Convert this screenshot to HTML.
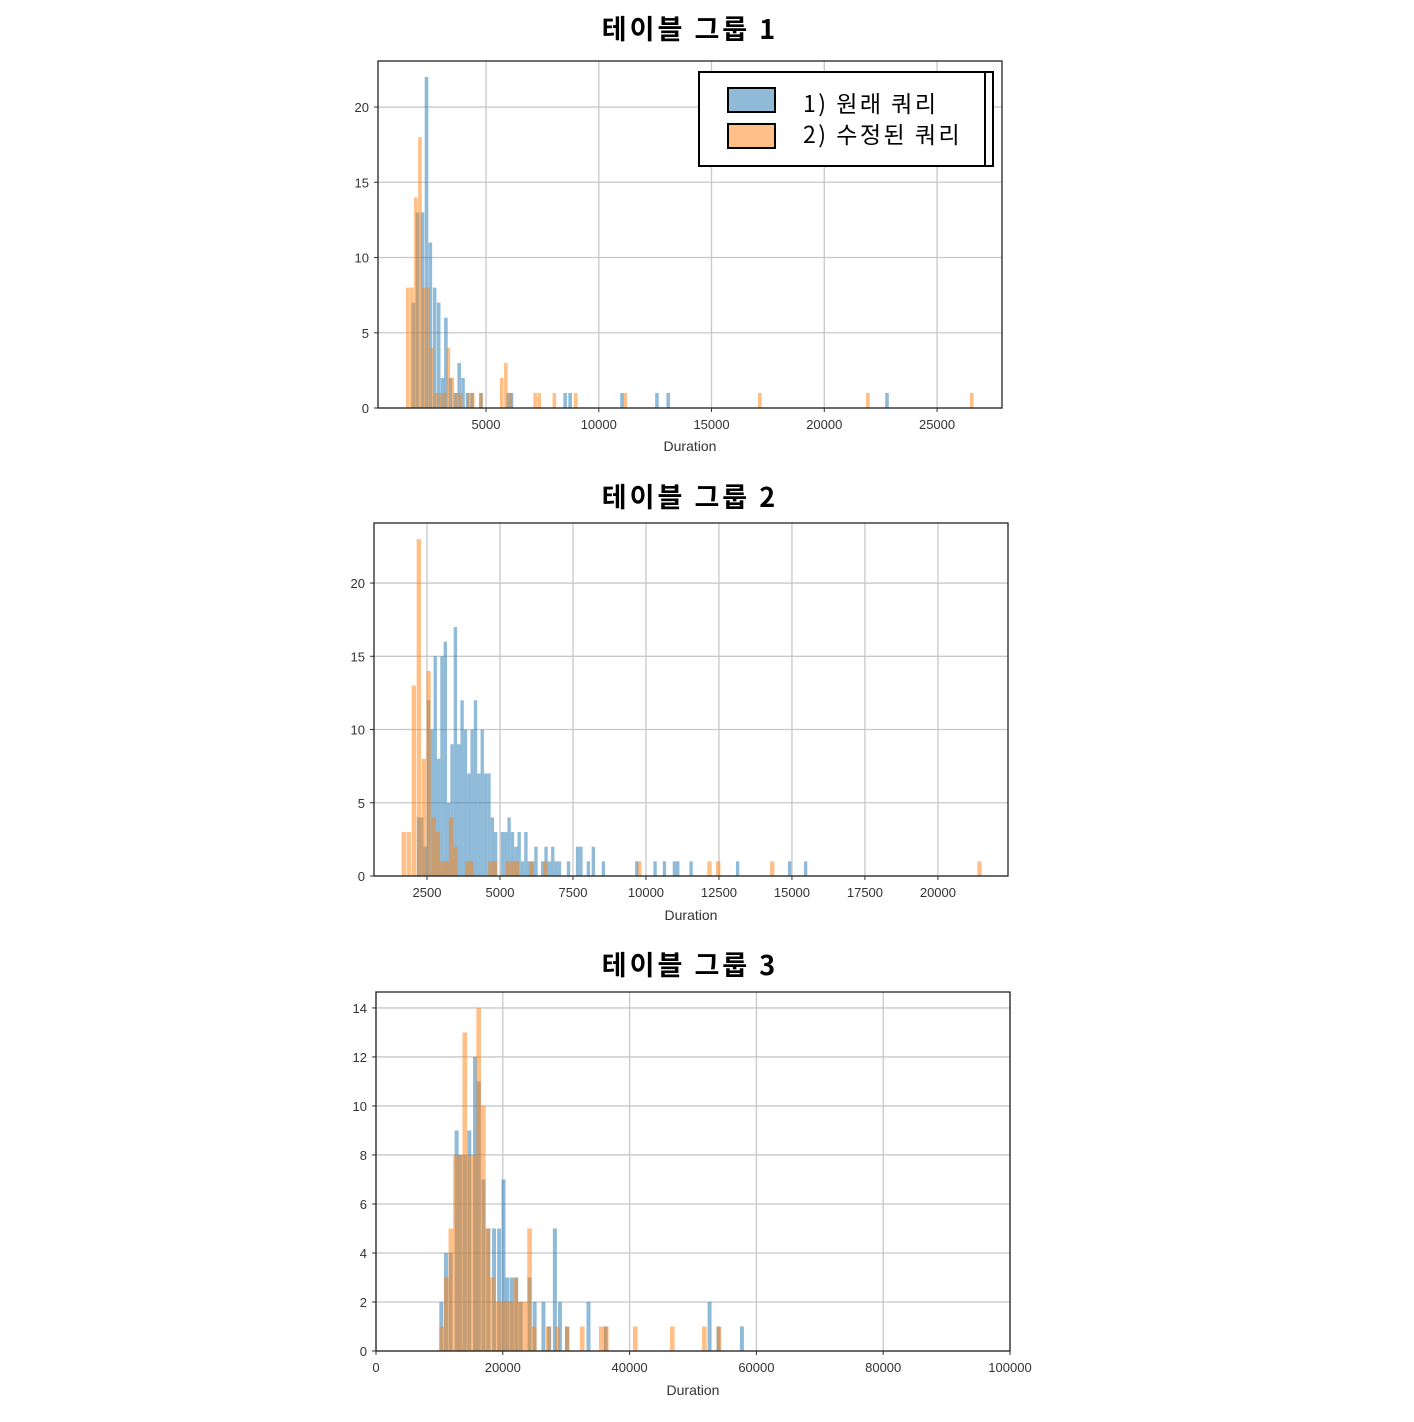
<!DOCTYPE html>
<html><head><meta charset="utf-8">
<style>
html,body{margin:0;padding:0;background:#fff;}
body{width:1414px;height:1417px;overflow:hidden;}
svg text{font-family:"Liberation Sans","Noto Sans CJK KR",sans-serif;}
svg text.kr{font-family:"Noto Sans CJK KR","Liberation Sans",sans-serif;}
</style></head>
<body>
<svg id="root" width="1414" height="1417" viewBox="0 0 1414 1417" xmlns="http://www.w3.org/2000/svg"></svg>
<script>
// ---- Chart 1 data ----
const c1OrangeX = [1450,1630,1810,1990,2170,2350,2530,2710,2890,3070,3250,3430,3610,3790,4150,4330,4690,5620,5800,6000,7100,7280,7950,8900,11100,17060,21850,26460];
const c1OrangeN = [8,8,14,18,8,8,4,1,1,1,4,2,1,1,1,1,1,2,3,1,1,1,1,1,1,1,1,1];
const c1BlueX = [1700,1880,2100,2280,2450,2640,2820,2990,3140,3340,3560,3730,3900,4100,4300,4700,5900,6050,8430,8650,10950,12500,13000,22700];
const c1BlueN = [7,13,13,22,11,8,7,2,6,2,1,3,2,1,1,1,1,1,1,1,1,1,1,1];
const c1XTicks = [5000,10000,15000,20000,25000];
const c1YTicks = [0,5,10,15,20];
// ---- Chart 2 data ----
const c2OrangeX = [1630,1800,1975,2146,2316,2480,2650,2800,2950,3100,3250,3400,3800,3950,4600,4750,5200,5350,5500,6000,6480,9700,12100,12400,14250,21350];
const c2OrangeN = [3,3,13,23,8,14,4,3,1,1,4,2,1,1,1,1,1,1,1,1,1,1,1,1,1,1];
const c2BlueX = [2150,2265,2380,2495,2610,2725,2840,2955,3070,3185,3300,3415,3530,3645,3760,3875,3990,4105,4220,4335,4450,4565,4680,4795,5025,5140,5255,5370,5485,5600,5715,5830,5945,6060,6175,6405,6520,6635,6750,6865,6980,7290,7600,7715,7970,8140,8485,9627,10255,10575,10917,11031,11488,13082,14863,15411];
const c2BlueN = [4,4,2,12,10,15,8,15,16,5,9,17,9,12,10,7,10,12,7,10,7,7,4,3,3,3,4,3,2,3,1,3,1,1,2,1,2,1,2,1,1,1,2,2,1,2,1,1,1,1,1,1,1,1,1,1];
const c2XTicks = [2500,5000,7500,10000,12500,15000,17500,20000];
const c2YTicks = [0,5,10,15,20];
// ---- Chart 3 data ----
const c3OrangeX = [9990,10720,11450,12180,12910,13640,14370,15100,15830,16560,17290,18020,18750,19480,20210,20940,21670,22400,23130,23860,24590,26810,28230,29810,32170,35170,35960,40530,46370,51420,53730];
const c3OrangeN = [1,3,5,8,8,13,8,8,14,10,5,3,2,2,2,2,3,2,2,5,1,1,1,1,1,1,1,1,1,1,1];
const c3BlueX = [9990,10720,11450,12400,13000,13700,14400,15300,15900,16650,17400,18300,19100,19800,20400,21100,21800,22500,23900,24700,26100,27000,27900,28700,29800,33200,35900,52300,53700,57400];
const c3BlueN = [2,4,4,9,8,8,9,12,11,7,5,5,5,7,3,3,3,2,3,2,2,1,5,2,1,2,1,2,1,1];
const c3XTicks = [0,20000,40000,60000,80000,100000];
const c3YTicks = [0,2,4,6,8,10,12,14];

const NS = 'http://www.w3.org/2000/svg';
const root = document.getElementById('root');
function mk(tag, attrs, parent){
  const e = document.createElementNS(NS, tag);
  for (const k in attrs) e.setAttribute(k, attrs[k]);
  (parent||root).appendChild(e);
  return e;
}

function chart(cfg){
  const g = mk('g', {});
  
  
  const {L,R,T,B,xmin,xmax,ymax} = cfg;
  const xs = v => L + (v - xmin) / (xmax - xmin) * (R - L);
  const ys = v => B - v / ymax * (B - T);
  const t = mk('text', {x:690, y:cfg.titleY, 'text-anchor':'middle', 'font-size':27, 'font-weight':'bold', fill:'#000', 'class':'kr', 'letter-spacing':3}, g);
  t.textContent = cfg.title;
  
  
  cfg.xTicks.forEach(v => {
    const ln = mk('line', {x1:xs(v), x2:xs(v), y1:T, y2:B, stroke:'#c8c8c8', 'stroke-width':1.3}, g);
    
    
    mk('line', {x1:xs(v), x2:xs(v), y1:B, y2:B+4, stroke:'#333', 'stroke-width':1}, g);
    const lb = mk('text', {x:xs(v), y:B+21, 'text-anchor':'middle', 'font-size':13, fill:'#333'}, g);
    lb.textContent = v;
    
    
  });
  cfg.yTicks.forEach(v => {
    const ln = mk('line', {x1:L, x2:R, y1:ys(v), y2:ys(v), stroke:'#c8c8c8', 'stroke-width':1.3}, g);
    
    
    mk('line', {x1:L-4, x2:L, y1:ys(v), y2:ys(v), stroke:'#333', 'stroke-width':1}, g);
    const lb = mk('text', {x:L-9, y:ys(v)+5, 'text-anchor':'end', 'font-size':13, fill:'#333'}, g);
    lb.textContent = v;
    
    
  });
  function series(X, N, w, color, nm){
    X.forEach((x, i) => {
      const x0 = Math.max(xs(x), L), x1 = xs(x + w);
      const r = mk('rect', {x:x0, y:ys(N[i]), width:Math.max(x1-x0,1), height:B-ys(N[i]), fill:color}, g);
      
      
    });
  }
  series(cfg.bX, cfg.bN, cfg.bw, 'rgba(31,119,180,0.5)', 'bar-original');
  series(cfg.oX, cfg.oN, cfg.ow, 'rgba(255,127,14,0.5)', 'bar-modified');
  const fr = mk('rect', {x:L, y:T, width:R-L, height:B-T, fill:'none', stroke:'#222', 'stroke-width':1.3}, g);
  
  
  const xl = mk('text', {x:(L+R)/2, y:cfg.xlabelY, 'text-anchor':'middle', 'font-size':14, fill:'#333'}, g);
  xl.textContent = 'Duration';
  
  
}

chart({name:'histogram-group-1', title:'테이블 그룹 1', titleY:39, xlabelY:451,
  L:378, R:1002, T:61, B:408, xmin:210, xmax:27880, ymax:23.06,
  xTicks:c1XTicks, yTicks:c1YTicks,
  bX:c1BlueX, bN:c1BlueN, bw:160, oX:c1OrangeX, oN:c1OrangeN, ow:160});
chart({name:'histogram-group-2', title:'테이블 그룹 2', titleY:507, xlabelY:920,
  L:374, R:1008, T:523, B:876, xmin:685, xmax:22400, ymax:24.1,
  xTicks:c2XTicks, yTicks:c2YTicks,
  bX:c2BlueX, bN:c2BlueN, bw:115, oX:c2OrangeX, oN:c2OrangeN, ow:150});
chart({name:'histogram-group-3', title:'테이블 그룹 3', titleY:975, xlabelY:1395,
  L:376, R:1010, T:992, B:1351, xmin:0, xmax:100000, ymax:14.65,
  xTicks:c3XTicks, yTicks:c3YTicks,
  bX:c3BlueX, bN:c3BlueN, bw:630, oX:c3OrangeX, oN:c3OrangeN, ow:730});

const lg = mk('g', {});


mk('rect', {x:699, y:72, width:294, height:94, fill:'#fff', stroke:'#000', 'stroke-width':2}, lg);
mk('line', {x1:985, x2:985, y1:72, y2:166, stroke:'#000', 'stroke-width':2}, lg);
const p1 = mk('rect', {x:728, y:88, width:47, height:24, fill:'#8fbbd9', stroke:'#000', 'stroke-width':2}, lg);


const p2 = mk('rect', {x:728, y:124, width:47, height:24, fill:'#ffbf86', stroke:'#000', 'stroke-width':2}, lg);


const l1 = mk('text', {x:803, y:112, 'font-size':23, fill:'#000', 'class':'kr', 'letter-spacing':2.5}, lg);
l1.textContent = '1) 원래 쿼리';


const l2 = mk('text', {x:803, y:143, 'font-size':23, fill:'#000', 'class':'kr', 'letter-spacing':2.5}, lg);
l2.textContent = '2) 수정된 쿼리';


</script>
</body></html>
